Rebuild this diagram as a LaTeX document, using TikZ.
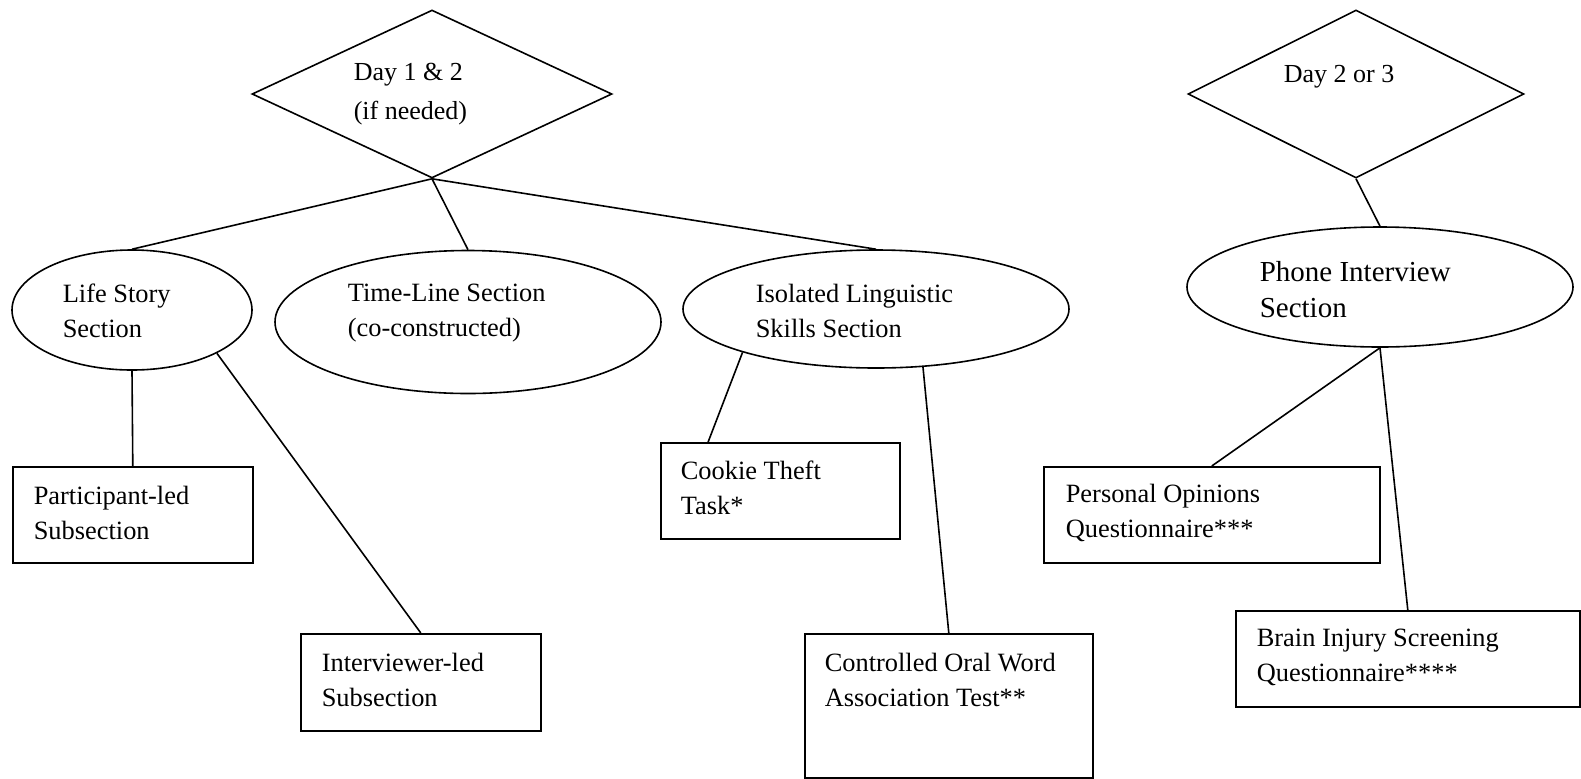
\documentclass[tikz,border=0pt]{standalone}
\usepackage{fontspec}
\setmainfont{Liberation Serif}
\usetikzlibrary{shapes.geometric,calc}

\begin{document}
\begin{tikzpicture}[x=0.5pt,y=-0.5pt,line width=0.8pt,
  day/.style={draw,diamond,inner sep=0pt},
  sect/.style={draw,ellipse,inner sep=0pt},
  task/.style={draw,rectangle,inner sep=0pt,anchor=north west},
  txt/.style={anchor=west,align=left,inner sep=0pt,
    font=\fontsize{13.2}{17.5}\selectfont}]

  \useasboundingbox (0,0) rectangle (1581,778);

  % Days
  \node[day,minimum width=180pt,minimum height=84pt] (day12) at (432,94) {};
  \node[day,minimum width=168pt,minimum height=84pt] (day23) at (1356,94) {};
  \node[txt,font=\fontsize{13}{19.5}\selectfont] (day12txt) at (353,94) {Day 1 \& 2\\(if needed)};
  \node[txt,font=\fontsize{13}{19.5}\selectfont] (day23txt) at (1283,77) {Day 2 or 3};

  % Sections
  \node[sect,minimum width=120pt,minimum height=60pt] (life) at (132,310) {};
  \node[sect,minimum width=193pt,minimum height=71.5pt] (timeline) at (468,322) {};
  \node[sect,minimum width=193pt,minimum height=59pt] (isolated) at (876,309) {};
  \node[sect,minimum width=193pt,minimum height=60pt] (phone) at (1380,287) {};
  \node[txt] (lifetxt) at (62,311) {Life Story\\Section};
  \node[txt] (timelinetxt) at (347,313) {Time-Line Section\\(co-constructed)};
  \node[txt] (isolatedtxt) at (755,311) {Isolated Linguistic\\Skills Section};
  \node[txt,font=\fontsize{14.5}{18}\selectfont] (phonetxt) at (1259,290) {Phone Interview\\Section};

  % Tasks
  \node[task,minimum width=120pt,minimum height=48pt] (partled) at (12,466) {};
  \node[task,minimum width=120pt,minimum height=48.5pt] (intled) at (300,633) {};
  \node[task,minimum width=119.5pt,minimum height=48pt] (cookie) at (660,442) {};
  \node[task,minimum width=144pt,minimum height=72pt] (cowat) at (804,633) {};
  \node[task,minimum width=168pt,minimum height=48pt] (opinions) at (1043,466) {};
  \node[task,minimum width=172pt,minimum height=48pt] (bisq) at (1235,610) {};
  \node[txt] (partledtxt) at (33,513) {Participant-led\\Subsection};
  \node[txt] (intledtxt) at (321,680) {Interviewer-led\\Subsection};
  \node[txt] (cookietxt) at (680,488) {Cookie Theft\\Task*};
  \node[txt] (cowattxt) at (824,680) {Controlled Oral Word\\Association Test**};
  \node[txt] (opinionstxt) at (1065,513) {Personal Opinions\\Questionnaire***};
  \node[txt] (bisqtxt) at (1256,657) {Brain Injury Screening\\Questionnaire****};

  % Connectors
  \draw (day12.south) -- (life.north);
  \draw (day12.south) -- (timeline.north);
  \draw (day12.south) -- (isolated.north);
  \draw (day23.south) -- (phone.north);
  \draw (life.south) -- (partled.north);
  \draw (life.-27) -- (intled.north);
  \draw (isolated.198) -- ($(cookie.north west)!0.2!(cookie.north east)$);
  \draw (isolated.-51) -- (cowat.north);
  \draw (phone.south) -- (opinions.north);
  \draw (phone.south) -- (bisq.north);

\end{tikzpicture}
\end{document}
